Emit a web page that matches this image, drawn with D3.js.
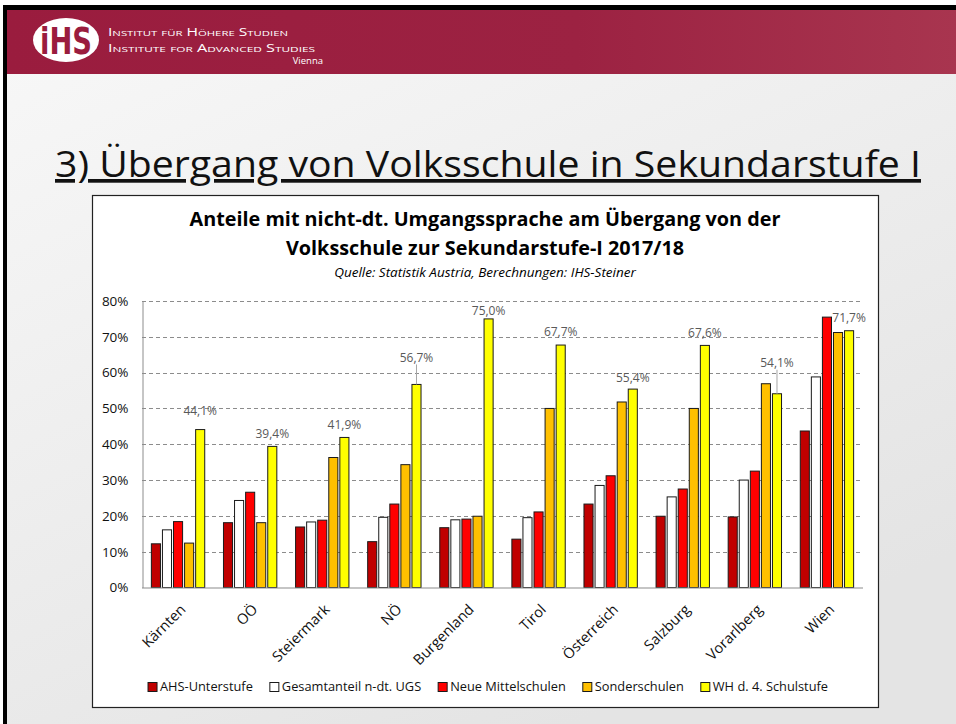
<!DOCTYPE html>
<html>
<head>
<meta charset="utf-8">
<script src="https://cdn.jsdelivr.net/npm/d3@7"></script>
<style>
  html, body { margin: 0; padding: 0; background: #fff; }
  svg { display: block; font-family: "Open Sans", "Noto Sans", sans-serif; }
</style>
</head>
<body>
<div id="viz"></div>
<script>
// Chart data
const categories = ["Kärnten", "OÖ", "Steiermark", "NÖ", "Burgenland", "Tirol", "Österreich", "Salzburg", "Vorarlberg", "Wien"];
const seriesNames = ["AHS-Unterstufe", "Gesamtanteil n-dt. UGS", "Neue Mittelschulen", "Sonderschulen", "WH d. 4. Schulstufe"];
const ahs    = [12.2, 18.1, 16.9, 12.8, 16.7, 13.5, 23.3, 19.9, 19.7, 43.7];
const gesamt = [16.1, 24.3, 18.3, 19.6, 18.9, 19.5, 28.5, 25.3, 30.0, 58.8];
const nms    = [18.4, 26.6, 18.8, 23.3, 19.1, 21.1, 31.2, 27.5, 32.5, 75.5];
const sonder = [12.4, 18.1, 36.3, 34.3, 19.9, 50.0, 51.8, 50.0, 56.9, 71.2];
const wh     = [44.1, 39.4, 41.9, 56.7, 75.0, 67.7, 55.4, 67.6, 54.1, 71.7];
const yTicks = [0, 10, 20, 30, 40, 50, 60, 70, 80];

const seriesValues = [ahs, gesamt, nms, sonder, wh];
const seriesColors = ["#c00000", "#ffffff", "#ff0000", "#ffc000", "#ffff00"];

// labels of the WH series: how far above the bar top the label sits
const labelLift = { "Kärnten": 19, "NÖ": 27, "Burgenland": 8, "Österreich": 11, "Vorarlberg": 31 };
const leaderLines = ["NÖ", "Vorarlberg"];

const width = 956, height = 724;
const svg = d3.select("#viz").append("svg")
    .attr("width", width)
    .attr("height", height);

const defs = svg.append("defs");
const bg = defs.append("linearGradient").attr("id", "bg")
    .attr("x1", 0).attr("y1", 0).attr("x2", 0.6).attr("y2", 1);
bg.append("stop").attr("offset", 0).attr("stop-color", "#f8f8f8");
bg.append("stop").attr("offset", 0.5).attr("stop-color", "#eeeeee");
bg.append("stop").attr("offset", 1).attr("stop-color", "#e4e4e4");
const hd = defs.append("linearGradient").attr("id", "hd")
    .attr("x1", 0).attr("y1", 0).attr("x2", 1).attr("y2", 0);
hd.append("stop").attr("offset", 0).attr("stop-color", "#9a1c3e");
hd.append("stop").attr("offset", 0.6).attr("stop-color", "#9c2242");
hd.append("stop").attr("offset", 1).attr("stop-color", "#a8354f");

// slide frame and background
svg.append("rect").attr("width", width).attr("height", height).attr("fill", "#fff");
svg.append("rect").attr("x", 3).attr("y", 5).attr("width", width - 3).attr("height", height - 5).attr("fill", "#000");
svg.append("rect").attr("x", 7).attr("y", 10).attr("width", width - 7).attr("height", height - 10).attr("fill", "url(#bg)");

// header band
svg.append("rect").attr("x", 7).attr("y", 10).attr("width", width - 7).attr("height", 64).attr("fill", "url(#hd)");
svg.append("ellipse").attr("cx", 66).attr("cy", 40).attr("rx", 33).attr("ry", 22).attr("fill", "#fff");
svg.append("text").attr("x", 66).attr("y", 54)
    .attr("text-anchor", "middle")
    .style("font-family", "'DejaVu Sans', sans-serif")
    .style("font-size", "38px").style("font-weight", "bold")
    .attr("fill", "#9a1c3e")
    .attr("textLength", 52).attr("lengthAdjust", "spacingAndGlyphs")
    .text("iHS");
const hdText = svg.append("g").attr("fill", "#fff")
    .style("font-variant", "small-caps").style("font-size", "11px");
hdText.append("text").attr("x", 108).attr("y", 36)
    .attr("textLength", 180).attr("lengthAdjust", "spacingAndGlyphs")
    .text("Institut für Höhere Studien");
hdText.append("text").attr("x", 108).attr("y", 52)
    .attr("textLength", 207).attr("lengthAdjust", "spacingAndGlyphs")
    .text("Institute for Advanced Studies");
svg.append("text").attr("x", 323).attr("y", 64)
    .attr("text-anchor", "end").attr("fill", "#fff")
    .style("font-size", "9.5px")
    .text("Vienna");

// slide title
svg.append("text").attr("x", 55).attr("y", 177)
    .style("font-size", "37px")
    .style("text-decoration", "underline")
    .attr("fill", "#111")
    .attr("textLength", 866).attr("lengthAdjust", "spacingAndGlyphs")
    .text("3) Übergang von Volksschule in Sekundarstufe I");

// chart box
svg.append("rect").attr("x", 92.5).attr("y", 195.5).attr("width", 786).attr("height", 512)
    .attr("fill", "#fff").attr("stroke", "#222").attr("stroke-width", 1.2);

const cx = 485;
svg.append("text").attr("x", cx).attr("y", 226).attr("text-anchor", "middle")
    .style("font-size", "19.8px").style("font-weight", "bold")
    .text("Anteile mit nicht-dt. Umgangssprache am Übergang von der");
svg.append("text").attr("x", cx).attr("y", 255).attr("text-anchor", "middle")
    .style("font-size", "19.8px").style("font-weight", "bold")
    .text("Volksschule zur Sekundarstufe-I 2017/18");
svg.append("text").attr("x", cx).attr("y", 277).attr("text-anchor", "middle")
    .style("font-size", "13.5px").style("font-style", "italic")
    .text("Quelle: Statistik Austria, Berechnungen: IHS-Steiner");

// scales
const x0 = d3.scaleBand().domain(categories).range([142, 863]).paddingInner(0.26).paddingOuter(0.13);
const x1 = d3.scaleBand().domain(seriesNames).range([0, x0.bandwidth()]).paddingInner(0.18);
const y = d3.scaleLinear().domain([0, 80]).range([587.5, 301]);

// gridlines
svg.append("g").selectAll("line")
    .data(yTicks.filter(t => t > 0))
    .join("line")
    .attr("x1", 142).attr("x2", 863)
    .attr("y1", d => Math.round(y(d)) + 0.5).attr("y2", d => Math.round(y(d)) + 0.5)
    .attr("stroke", "#8c8c8c").attr("stroke-dasharray", "4,3");

// y axis
const yAxis = svg.append("g")
    .attr("transform", "translate(142.5,0)")
    .call(d3.axisLeft(y).tickValues(yTicks).tickSize(0).tickPadding(14).tickFormat(d => d + "%"));
yAxis.select(".domain").attr("stroke", "#8c8c8c");
yAxis.selectAll("text").style("font-size", "13.5px").attr("fill", "#111")
    .style("font-family", "'Open Sans', sans-serif");

// bars
const groups = svg.append("g").selectAll("g")
    .data(categories)
    .join("g")
    .attr("transform", d => `translate(${x0(d)},0)`);

groups.selectAll("rect")
    .data((c, i) => seriesNames.map((s, j) => ({ series: s, value: seriesValues[j][i], color: seriesColors[j] })))
    .join("rect")
    .attr("x", d => x1(d.series))
    .attr("y", d => y(d.value))
    .attr("width", x1.bandwidth())
    .attr("height", d => y(0) - y(d.value))
    .attr("fill", d => d.color)
    .attr("stroke", "#1a1a1a").attr("stroke-width", 1);

// x axis baseline
svg.append("line").attr("x1", 142).attr("x2", 863)
    .attr("y1", 588).attr("y2", 588)
    .attr("stroke", "#8c8c8c").attr("stroke-width", 1.2);

// data labels on the WH series
const whName = seriesNames[4];
categories.forEach((c, i) => {
    const bx = x0(c) + x1(whName) + x1.bandwidth() / 2;
    const top = y(wh[i]);
    const lift = labelLift[c] !== undefined ? labelLift[c] : 13;
    const ly = top - lift;
    if (leaderLines.includes(c)) {
        svg.append("line")
            .attr("x1", bx).attr("x2", bx)
            .attr("y1", ly + 7).attr("y2", top)
            .attr("stroke", "#a6a6a6").attr("stroke-width", 1);
    }
    svg.append("text")
        .attr("x", bx).attr("y", ly)
        .attr("dy", "0.35em")
        .attr("text-anchor", "middle")
        .attr("fill", "#595959")
        .style("font-size", "12px")
        .text(d3.format(".1f")(wh[i]).replace(".", ",") + "%");
});

// category labels
svg.append("g").selectAll("text")
    .data(categories)
    .join("text")
    .attr("transform", d => `translate(${x0(d) + x0.bandwidth() / 2 + 1},603) rotate(-45)`)
    .attr("text-anchor", "end")
    .attr("dy", "0.72em")
    .style("font-size", "14.5px")
    .attr("fill", "#111")
    .text(d => d);

// legend
const legend = svg.append("g").attr("transform", "translate(0,687)");
const items = legend.selectAll("g")
    .data(seriesNames)
    .join("g");
items.append("rect")
    .attr("x", 0).attr("y", -4.5).attr("width", 9).attr("height", 9)
    .attr("fill", (d, i) => seriesColors[i])
    .attr("stroke", "#1a1a1a");
items.append("text")
    .attr("x", 12).attr("dy", "0.35em")
    .style("font-size", "12.8px")
    .attr("fill", "#111")
    .text(d => d);
let offset = 0;
const gaps = 17;
const widths = [];
items.each(function() {
    widths.push(12 + d3.select(this).select("text").node().getComputedTextLength());
});
const total = d3.sum(widths) + gaps * (widths.length - 1);
let start = cx + 3 - total / 2;
items.attr("transform", (d, i) => {
    const t = `translate(${start + offset},0)`;
    offset += widths[i] + gaps;
    return t;
});
</script>
</body>
</html>
